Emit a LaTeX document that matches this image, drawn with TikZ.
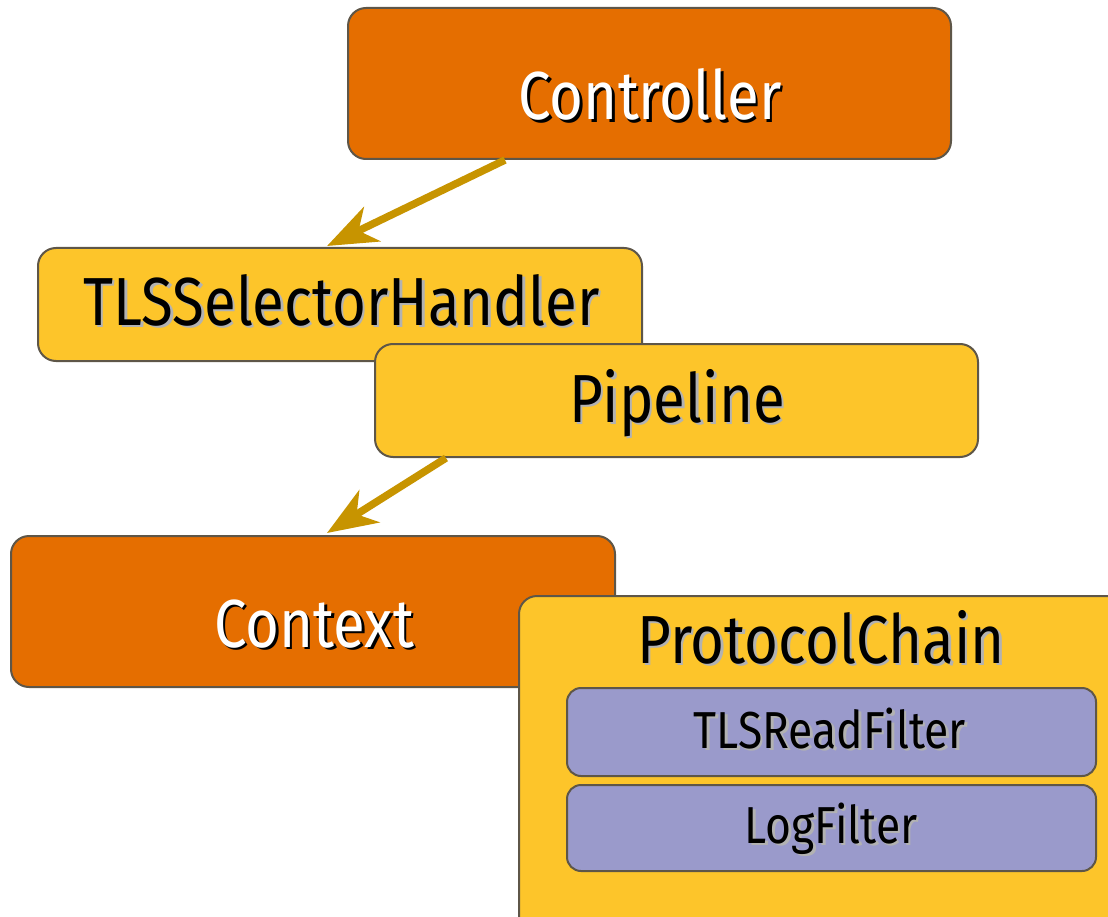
\documentclass[tikz,border=0pt]{standalone}
\usepackage{fontspec}
\setmainfont[FakeStretch=0.855]{Fira Sans}
\usetikzlibrary{arrows.meta,calc}
\definecolor{corange}{HTML}{E56E00}
\definecolor{cyellow}{HTML}{FDC52A}
\definecolor{cpurple}{HTML}{9A9ACB}
\definecolor{carrow}{HTML}{C79400}
\definecolor{cborder}{HTML}{5E5648}
\newcommand\shtxt[3]{\leavevmode\rlap{\hspace{2.5pt}\raisebox{-2.5pt}{\textcolor{#2}{#3}}}\textcolor{#1}{#3}}
\tikzset{
  box/.style={draw=cborder, line width=2pt, rounded corners=18pt, inner sep=0pt},
  obox/.style={box, fill=corange},
  ybox/.style={box, fill=cyellow},
  pbox/.style={box, fill=cpurple, rounded corners=14pt},
  big/.style={anchor=base, inner sep=0pt, font=\fontsize{68}{70}\selectfont},
  small/.style={anchor=base, inner sep=0pt, font=\fontsize{52}{54}\selectfont},
  conn/.style={draw=carrow, line width=7.5pt, -{Stealth[length=50pt,width=38pt,inset=15pt]}}
}
\begin{document}
\begin{tikzpicture}[x=1pt,y=-1pt]
\clip (0,0) rectangle (1108,917);
% boxes
\node[obox, minimum width=603pt, minimum height=151pt] (ctrl) at (649.5,83.5) {};
\node[big] (ctrlT) at (650,120) {\shtxt{white}{black}{Controller}};
\node[ybox, minimum width=604pt, minimum height=113pt] (tls) at (340,304.5) {};
\node[big] (tlsT) at (341.5,325) {\shtxt{black}{black!30}{TLSSelectorHandler}};
\node[ybox, minimum width=603pt, minimum height=113pt] (pipe) at (676.5,400.5) {};
\node[big] (pipeT) at (677,422) {\shtxt{black}{black!30}{Pipeline}};
\node[obox, minimum width=604pt, minimum height=151pt] (ctx) at (313,611.5) {};
\node[big] (ctxT) at (314,647) {\shtxt{white}{black}{Context}};
\node[ybox, minimum width=620pt, minimum height=360pt] (pc) at (829,776) {};
\node[big] (pcT) at (821,663) {\shtxt{black}{black!30}{ProtocolChain}};
\node[pbox, minimum width=529pt, minimum height=88pt] (rf) at (831.5,732) {};
\node[small] (rfT) at (830,748) {\shtxt{black}{black!30}{TLSReadFilter}};
\node[pbox, minimum width=529pt, minimum height=86pt] (lf) at (831.5,828) {};
\node[small] (lfT) at (831,843) {\shtxt{black}{black!30}{LogFilter}};
% connectors
\draw[conn] ($(ctrl.south west)+(158,0)$) -- ($(tls.north west)+(290,-1)$);
\draw[conn] ($(pipe.south west)+(72,0)$) -- ($(ctx.north west)+(317,-2)$);
\end{tikzpicture}
\end{document}
